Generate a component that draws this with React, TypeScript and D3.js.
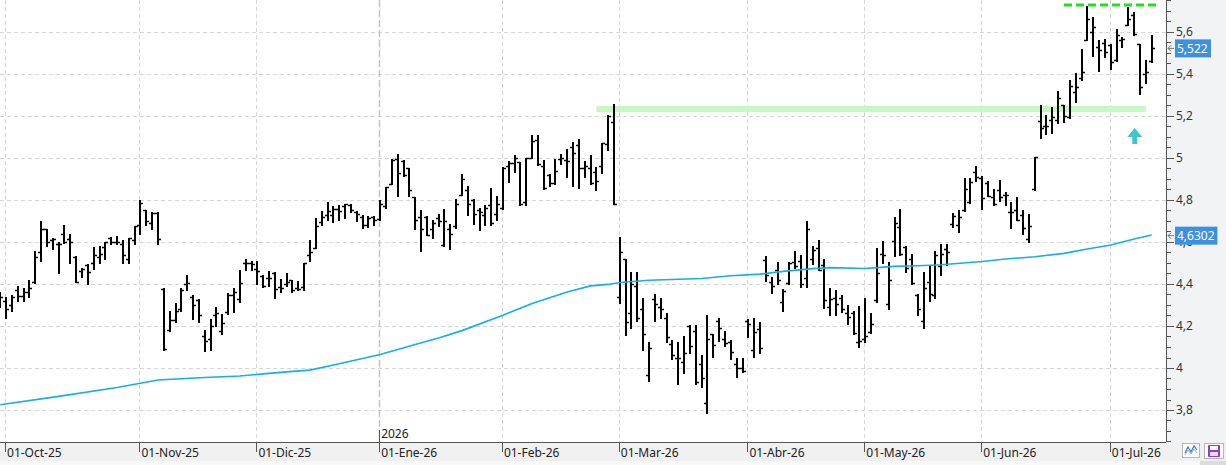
import React from 'react'
import * as d3 from 'd3'

type Bar = [number, number, number, number] // open, high, low, close

// daily OHLC, one list per month
const sep25: Bar[] = [[4.33, 4.36, 4.29, 4.34]]
const oct25: Bar[] = [
  [4.32, 4.34, 4.24, 4.28], [4.30, 4.35, 4.27, 4.34], [4.37, 4.39, 4.32, 4.345], [4.345, 4.38, 4.32, 4.36],
  [4.36, 4.42, 4.34, 4.38], [4.41, 4.555, 4.405, 4.53], [4.55, 4.70, 4.51, 4.66], [4.66, 4.66, 4.58, 4.60],
  [4.61, 4.62, 4.565, 4.615], [4.59, 4.60, 4.45, 4.59], [4.64, 4.68, 4.595, 4.60], [4.615, 4.64, 4.50, 4.60],
  [4.53, 4.535, 4.41, 4.41], [4.46, 4.475, 4.435, 4.47], [4.49, 4.495, 4.40, 4.455], [4.50, 4.575, 4.47, 4.54],
  [4.53, 4.58, 4.50, 4.545], [4.575, 4.60, 4.52, 4.60], [4.62, 4.625, 4.59, 4.60], [4.60, 4.63, 4.59, 4.60],
  [4.59, 4.61, 4.50, 4.54], [4.52, 4.62, 4.50, 4.62], [4.61, 4.674, 4.59, 4.674],
]
const nov25: Bar[] = [
  [4.68, 4.80, 4.64, 4.785], [4.75, 4.75, 4.68, 4.70], [4.69, 4.745, 4.66, 4.74], [4.74, 4.745, 4.59, 4.615],
  [4.375, 4.38, 4.085, 4.09], [4.18, 4.27, 4.175, 4.23], [4.23, 4.31, 4.22, 4.27], [4.28, 4.38, 4.27, 4.37],
  [4.40, 4.445, 4.37, 4.405], [4.34, 4.35, 4.235, 4.30], [4.325, 4.33, 4.22, 4.25], [4.15, 4.18, 4.08, 4.13],
  [4.14, 4.235, 4.085, 4.20], [4.25, 4.29, 4.20, 4.26], [4.175, 4.255, 4.16, 4.215], [4.265, 4.355, 4.255, 4.35],
  [4.35, 4.38, 4.265, 4.36], [4.33, 4.465, 4.316, 4.405], [4.50, 4.52, 4.466, 4.50], [4.50, 4.51, 4.466, 4.495],
]
const dec25: Bar[] = [
  [4.47, 4.51, 4.40, 4.46], [4.44, 4.445, 4.387, 4.39], [4.43, 4.46, 4.39, 4.43], [4.45, 4.455, 4.335, 4.375],
  [4.385, 4.426, 4.363, 4.38], [4.40, 4.453, 4.39, 4.41], [4.42, 4.42, 4.363, 4.37], [4.38, 4.415, 4.37, 4.375],
  [4.385, 4.50, 4.372, 4.50], [4.537, 4.61, 4.51, 4.55], [4.57, 4.716, 4.57, 4.675], [4.695, 4.746, 4.68, 4.72],
  [4.727, 4.79, 4.707, 4.746], [4.73, 4.77, 4.695, 4.758], [4.758, 4.775, 4.707, 4.746], [4.77, 4.782, 4.716, 4.78],
  [4.775, 4.782, 4.743, 4.75], [4.745, 4.748, 4.70, 4.735], [4.72, 4.727, 4.667, 4.68], [4.68, 4.722, 4.672, 4.716],
  [4.72, 4.722, 4.683, 4.706],
]
const jan26: Bar[] = [
  [4.71, 4.80, 4.703, 4.78], [4.77, 4.86, 4.76, 4.86], [4.877, 4.995, 4.874, 4.99], [4.995, 5.02, 4.817, 4.927],
  [4.985, 4.99, 4.912, 4.917], [4.95, 4.953, 4.82, 4.85], [4.815, 4.815, 4.664, 4.703], [4.72, 4.754, 4.558, 4.664],
  [4.72, 4.722, 4.631, 4.633], [4.664, 4.706, 4.621, 4.69], [4.716, 4.735, 4.675, 4.70], [4.585, 4.759, 4.58, 4.70],
  [4.66, 4.686, 4.565, 4.64], [4.676, 4.803, 4.667, 4.779], [4.825, 4.925, 4.825, 4.898], [4.85, 4.867, 4.73, 4.783],
  [4.80, 4.806, 4.687, 4.732], [4.75, 4.764, 4.656, 4.743], [4.727, 4.778, 4.68, 4.76], [4.775, 4.859, 4.68, 4.69],
  [4.735, 4.818, 4.706, 4.783],
]
const feb26: Bar[] = [
  [4.76, 4.957, 4.759, 4.954], [4.96, 4.984, 4.886, 4.976], [4.978, 5.016, 4.933, 5.0], [4.981, 4.981, 4.775, 4.783],
  [4.79, 5.0, 4.778, 5.0], [5.0, 5.108, 5.0, 5.08], [5.085, 5.108, 4.968, 4.97], [4.96, 4.989, 4.854, 4.857],
  [4.92, 4.925, 4.866, 4.883], [4.88, 4.994, 4.878, 4.937], [4.997, 5.021, 4.973, 5.0], [4.99, 5.044, 4.91, 4.985],
  [5.052, 5.076, 4.867, 5.025], [5.06, 5.092, 4.857, 4.95], [4.95, 4.987, 4.91, 4.962], [4.952, 5.013, 4.878, 4.88],
  [4.933, 4.957, 4.85, 4.89], [4.96, 5.071, 4.929, 5.07], [5.068, 5.203, 5.037, 5.20], [5.171, 5.256, 4.78, 4.78],
]
const mar26: Bar[] = [
  [4.339, 4.624, 4.31, 4.553], [4.52, 4.521, 4.157, 4.22], [4.26, 4.455, 4.191, 4.398], [4.39, 4.455, 4.225, 4.24],
  [4.28, 4.331, 4.088, 4.164], [3.966, 4.122, 3.939, 4.093], [4.33, 4.352, 4.225, 4.304], [4.29, 4.331, 4.239, 4.28],
  [4.236, 4.264, 4.125, 4.148], [4.112, 4.133, 4.045, 4.061], [4.05, 4.122, 3.926, 4.05], [4.03, 4.152, 3.977, 4.072],
  [4.2, 4.207, 4.072, 4.104], [4.175, 4.207, 3.923, 3.934], [4.02, 4.061, 3.908, 3.95], [3.831, 4.252, 3.784, 4.136],
  [4.16, 4.164, 4.053, 4.109], [4.223, 4.24, 4.13, 4.19], [4.136, 4.175, 4.104, 4.117], [4.125, 4.133, 4.045, 4.074],
  [4.02, 4.05, 3.958, 4.0], [4.0, 4.05, 3.982, 3.987],
]
const apr26: Bar[] = [
  [4.225, 4.231, 4.148, 4.208], [4.085, 4.24, 4.053, 4.172], [4.184, 4.217, 4.073, 4.093], [4.516, 4.532, 4.415, 4.442],
  [4.41, 4.434, 4.358, 4.39], [4.468, 4.505, 4.40, 4.418], [4.315, 4.374, 4.273, 4.368], [4.405, 4.505, 4.40, 4.50],
  [4.505, 4.557, 4.478, 4.485], [4.51, 4.536, 4.386, 4.402], [4.43, 4.699, 4.386, 4.663], [4.52, 4.579, 4.494, 4.563],
  [4.57, 4.61, 4.465, 4.468], [4.49, 4.521, 4.288, 4.326], [4.29, 4.383, 4.252, 4.33], [4.331, 4.37, 4.252, 4.303],
  [4.335, 4.347, 4.268, 4.279], [4.263, 4.299, 4.209, 4.241], [4.263, 4.271, 4.162, 4.168], [4.126, 4.295, 4.102, 4.13],
]
const may26: Bar[] = [
  [4.137, 4.334, 4.126, 4.15], [4.17, 4.263, 4.168, 4.21], [4.323, 4.571, 4.315, 4.45], [4.544, 4.607, 4.50, 4.54],
  [4.305, 4.505, 4.279, 4.42], [4.607, 4.721, 4.532, 4.69], [4.671, 4.757, 4.54, 4.542], [4.576, 4.58, 4.458, 4.474],
  [4.52, 4.541, 4.402, 4.405], [4.35, 4.352, 4.252, 4.279], [4.224, 4.458, 4.189, 4.383], [4.41, 4.49, 4.32, 4.352],
  [4.347, 4.557, 4.331, 4.537], [4.485, 4.592, 4.442, 4.541], [4.568, 4.589, 4.49, 4.553], [4.687, 4.738, 4.671, 4.722],
  [4.679, 4.753, 4.647, 4.719], [4.75, 4.905, 4.747, 4.853], [4.79, 4.905, 4.785, 4.885], [4.935, 4.964, 4.892, 4.911],
]
const jun26: Bar[] = [
  [4.905, 4.916, 4.758, 4.81], [4.88, 4.889, 4.817, 4.82], [4.815, 4.853, 4.774, 4.78], [4.848, 4.896, 4.795, 4.815],
  [4.825, 4.84, 4.774, 4.825], [4.742, 4.79, 4.668, 4.742], [4.75, 4.813, 4.706, 4.706], [4.73, 4.75, 4.64, 4.668],
  [4.612, 4.731, 4.6, 4.674], [4.853, 5.006, 4.848, 5.003], [5.177, 5.253, 5.095, 5.142], [5.153, 5.206, 5.114, 5.153],
  [5.18, 5.243, 5.117, 5.193], [5.18, 5.32, 5.168, 5.285], [5.25, 5.253, 5.173, 5.2], [5.195, 5.371, 5.192, 5.344],
  [5.312, 5.403, 5.269, 5.34], [5.38, 5.52, 5.37, 5.41], [5.563, 5.723, 5.56, 5.664], [5.6, 5.672, 5.488, 5.624],
  [5.53, 5.563, 5.413, 5.512], [5.547, 5.568, 5.483, 5.504],
]
const jul26: Bar[] = [
  [5.54, 5.544, 5.424, 5.456], [5.467, 5.616, 5.464, 5.584], [5.56, 5.576, 5.528, 5.565], [5.632, 5.717, 5.632, 5.66],
  [5.68, 5.696, 5.584, 5.592], [5.544, 5.544, 5.304, 5.336], [5.40, 5.467, 5.355, 5.408], [5.46, 5.584, 5.456, 5.522],
]

const monthLabels = ['01-Oct-25', '01-Nov-25', '01-Dic-25', '01-Ene-26', '01-Feb-26', '01-Mar-26', '01-Abr-26', '01-May-26', '01-Jun-26', '01-Jul-26']
const monthBars = [oct25, nov25, dec25, jan26, feb26, mar26, apr26, may26, jun26, jul26]
const yearMark = { label: '2026', month: 3 }

const yTicks = [3.8, 4, 4.2, 4.4, 4.6, 4.8, 5, 5.2, 5.4, 5.6]

// 200-session moving average, read at [bar index, value]
const maPoints: [number, number][] = [
  [0, 3.825], [10, 3.865], [20, 3.907], [27, 3.943], [35, 3.955], [41, 3.962], [45, 3.972], [50, 3.984],
  [53, 3.99], [58, 4.02], [65, 4.064], [71, 4.112], [75, 4.143], [79, 4.178], [86, 4.251], [91, 4.307],
  [97, 4.362], [101, 4.391], [104, 4.398], [106, 4.407], [111, 4.418], [120, 4.426], [125, 4.439], [130, 4.447],
  [134, 4.46], [139, 4.473], [142, 4.478], [148, 4.474], [150, 4.478], [153, 4.484], [157, 4.487], [161, 4.492],
  [168, 4.507], [172, 4.519], [177, 4.53], [182, 4.546], [186, 4.567], [190, 4.586], [194, 4.614], [197, 4.633],
]
const lastClose = 5.522
const lastMa = 4.6302
const supportBand = { from: 102, to: 196, lo: 5.218, hi: 5.248 }
const resistance = { from: 182, to: 198, value: 5.728 }
const arrowAt = { index: 194.1, value: 5.143 }

const W = 1226
const H = 465
const AXIS_X = 1166
const AXIS_Y = 442
const FONT = '"Noto Sans", "Open Sans", sans-serif'

const fmt = (v: number) => String(+v.toFixed(4)).replace('.', ',')

export default function App() {
  const bars: Bar[] = [...sep25, ...monthBars.flat()]
  const x = d3.scaleLinear().domain([0, bars.length - 1]).range([0.2, 1151.7])
  const y = d3.scaleLinear().domain([3.8, 5.6]).range([410, 32])

  // first bar index of every month (sep25 comes first)
  const starts: number[] = []
  let acc = sep25.length
  monthBars.forEach(m => { starts.push(acc); acc += m.length })
  const monthX = starts.map(i => x(i) - 1)

  const minor = d3.range(73, 116).map(k => k * 0.05).filter(v => y(v) >= 0 && y(v) <= AXIS_Y)

  const maLine = d3.line<[number, number]>().x(d => x(d[0])).y(d => y(d[1]))

  const stems = bars.map((b, i) => {
    const cx = Math.round(x(i))
    return `M${cx},${Math.round(y(b[1]))}V${Math.round(y(b[2])) + 1}`
  }).join('')
  const ticks = bars.map((b, i) => {
    const cx = Math.round(x(i))
    return `M${cx - 3},${Math.round(y(b[0])) + 0.5}H${cx}M${cx},${Math.round(y(b[3])) + 0.5}H${cx + 3}`
  }).join('')

  const ax = x(arrowAt.index)
  const ay = y(arrowAt.value)

  return (
    <div>
      <style>{'body{margin:0}'}</style>
      <svg width={W} height={H} style={{ display: 'block', fontFamily: FONT }}>
        <defs>
          <clipPath id="plot"><rect x={0} y={0} width={AXIS_X} height={AXIS_Y} /></clipPath>
        </defs>
        <rect x={0} y={0} width={W} height={H} fill="#ffffff" />
        <rect x={AXIS_X} y={0} width={W - AXIS_X} height={AXIS_Y} fill="#f2f3f5" />
        <rect x={0} y={AXIS_Y} width={W} height={19} fill="#f0f0f0" />
        <rect x={0} y={AXIS_Y + 19} width={W} height={H - AXIS_Y - 19} fill="#f8f8f8" />
        <rect x={1200} y={AXIS_Y + 19} width={W - 1200} height={H - AXIS_Y - 19} fill="#dcdcdc" />

        <g clipPath="url(#plot)">
          {yTicks.map(v => (
            <line key={v} x1={0} x2={AXIS_X} y1={Math.round(y(v)) + 0.5} y2={Math.round(y(v)) + 0.5}
              stroke="#d6d6d6" strokeDasharray="4,3" />
          ))}
          {monthX.map((mx, k) => (
            <line key={k} x1={Math.round(mx) + 0.5} x2={Math.round(mx) + 0.5} y1={0} y2={AXIS_Y}
              stroke={k === yearMark.month ? '#c4c4c4' : '#d6d6d6'}
              strokeWidth={k === yearMark.month ? 1.5 : 1}
              strokeDasharray={k === yearMark.month ? '7,3' : '4,3'} />
          ))}

          <rect x={x(supportBand.from)} width={x(supportBand.to) - x(supportBand.from)}
            y={y(supportBand.hi)} height={y(supportBand.lo) - y(supportBand.hi)} fill="#c9f6c4" />

          <path d={stems} fill="none" stroke="#000" strokeWidth={2} shapeRendering="crispEdges" />
          <path d={ticks} fill="none" stroke="#000" strokeWidth={1.3} />

          <path d={maLine(maPoints) || ''} fill="none" stroke="#14aee8" strokeWidth={1.6} />

          <line x1={x(resistance.from)} x2={x(resistance.to)} y1={y(resistance.value)} y2={y(resistance.value)}
            stroke="#1fe01f" strokeWidth={3} strokeDasharray="8,4" />

          <path d={`M${ax},${ay}L${ax + 7.5},${ay + 9}H${ax + 2.5}V${ay + 16}H${ax - 2.5}V${ay + 9}H${ax - 7.5}Z`}
            fill="#3ec6c9" />
        </g>

        {/* right price axis */}
        <line x1={AXIS_X + 0.5} x2={AXIS_X + 0.5} y1={0} y2={AXIS_Y} stroke="#555" />
        {minor.map(v => (
          <line key={v} x1={AXIS_X} x2={AXIS_X + 5} y1={Math.round(y(v)) + 0.5} y2={Math.round(y(v)) + 0.5} stroke="#555" />
        ))}
        {yTicks.map(v => (
          <g key={v}>
            <line x1={AXIS_X} x2={AXIS_X + 8} y1={Math.round(y(v)) + 0.5} y2={Math.round(y(v)) + 0.5} stroke="#555" />
            <text x={AXIS_X + 10} y={y(v)} dy="0.35em" fontSize={12} fill="#333">{fmt(v)}</text>
          </g>
        ))}

        {[lastClose, lastMa].map(v => {
          const t = fmt(v)
          const bw = t.length * 6.4 + 4
          return (
            <g key={v}>
              <path d={`M${AXIS_X + 2},${y(v)}h6M${AXIS_X + 2},${y(v)}l3,-3M${AXIS_X + 2},${y(v)}l3,3`}
                stroke="#777" fill="none" />
              <rect x={AXIS_X + 9} y={y(v) - 9} width={bw} height={18} fill="#3d8fe0" />
              <text x={AXIS_X + 11} y={y(v)} dy="0.35em" fontSize={12} fill="#fff">{t}</text>
            </g>
          )
        })}

        {/* bottom time axis */}
        <line x1={0} x2={AXIS_X} y1={AXIS_Y + 0.5} y2={AXIS_Y + 0.5} stroke="#555" />
        {monthX.map((mx, k) => (
          <g key={k}>
            <line x1={Math.round(mx) + 0.5} x2={Math.round(mx) + 0.5} y1={AXIS_Y} y2={AXIS_Y + 10} stroke="#555" />
            <text x={mx + 2} y={AXIS_Y + 15} fontSize={12} fill="#222">{monthLabels[k]}</text>
          </g>
        ))}
        <line x1={Math.round(monthX[yearMark.month]) + 0.5} x2={Math.round(monthX[yearMark.month]) + 0.5}
          y1={AXIS_Y - 12} y2={AXIS_Y} stroke="#555" />
        <text x={monthX[yearMark.month] + 2} y={AXIS_Y - 4} fontSize={12} fill="#222">{yearMark.label}</text>

        {/* toolbar icons */}
        <rect x={1182.5} y={443.5} width={17} height={14} fill="#fff" stroke="#b8b8b8" />
        <polyline points="1185,453 1188,447 1191,452 1194,446 1197,450" fill="none" stroke="#3a7bd5" strokeWidth={1.2} />
        <polyline points="1185,455 1188,450 1191,454 1194,449 1197,453" fill="none" stroke="#7fb0e8" strokeWidth={1} />
        <rect x={1204.5} y={443.5} width={19} height={15} fill="#fff" stroke="#b8b8b8" />
        <rect x={1208} y={445} width={12} height={12} rx={1} fill="#8e3fc6" />
        <rect x={1210} y={446} width={8} height={4} fill="#fff" />
        <rect x={1210} y={452} width={8} height={4} fill="#e8d8f4" />
      </svg>
    </div>
  )
}
